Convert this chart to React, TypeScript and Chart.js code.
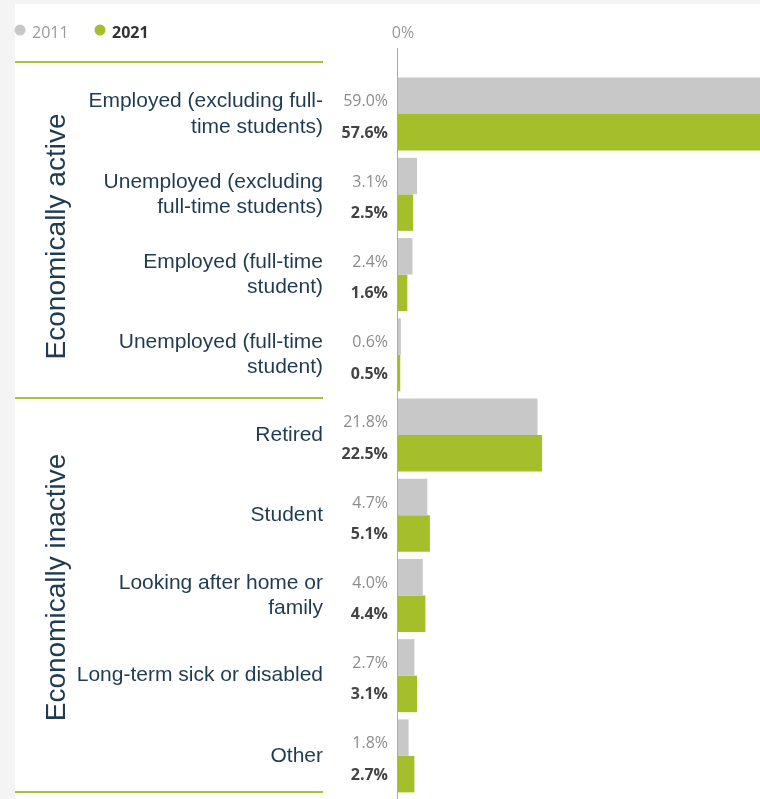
import React, { useEffect, useRef } from "react";
import { Chart, registerables } from "chart.js";

Chart.register(...registerables);

const categories: (string | string[])[] = [
  ["Employed (excluding full-", "time students)"],
  ["Unemployed (excluding", "full-time students)"],
  ["Employed (full-time", "student)"],
  ["Unemployed (full-time", "student)"],
  "Retired",
  "Student",
  ["Looking after home or", "family"],
  "Long-term sick or disabled",
  "Other",
];
const seriesNames = ["2011", "2021"];
const values2011 = [59.0, 3.1, 2.4, 0.6, 21.8, 4.7, 4.0, 2.7, 1.8];
const values2021 = [57.6, 2.5, 1.6, 0.5, 22.5, 5.1, 4.4, 3.1, 2.7];
const groupNames = ["Economically active", "Economically inactive"];
const groupSizes = [4, 5];
const axisTickLabel = "0%";

const GRAY = "#c8c8c8";
const GREEN = "#a4be2c";
const LINE_GREEN = "#a9c23a";
const TEXT_DARK = "#1f3b50";
const NUM_FONT = '"Open Sans", "DejaVu Sans", sans-serif';
const LABEL_FONT = '"Liberation Sans", Arial, sans-serif';

const decorPlugin = {
  id: "decor",
  beforeDraw(chart: any) {
    const { ctx, width, height } = chart;
    ctx.save();
    ctx.fillStyle = "#f4f4f4";
    ctx.fillRect(0, 0, width, height);
    ctx.fillStyle = "#ffffff";
    ctx.fillRect(15, 4, width - 15, height - 4);
    ctx.restore();
  },
  afterDatasetsDraw(chart: any) {
    const { ctx, chartArea } = chart;
    const yScale = chart.scales.y;
    const left = chartArea.left;
    ctx.save();

    // axis line
    ctx.strokeStyle = "#aaaaaa";
    ctx.lineWidth = 1;
    ctx.beginPath();
    ctx.moveTo(left + 0.5, 48);
    ctx.lineTo(left + 0.5, chart.height);
    ctx.stroke();

    // "0%" label
    ctx.font = `16px ${NUM_FONT}`;
    ctx.fillStyle = "#999999";
    ctx.textAlign = "center";
    ctx.textBaseline = "middle";
    ctx.fillText(axisTickLabel, left + 6, 33);

    // legend
    const legendColors = [GRAY, GREEN];
    const legendX = [20, 100];
    seriesNames.forEach((name, i) => {
      ctx.fillStyle = legendColors[i];
      ctx.beginPath();
      ctx.arc(legendX[i], 30, 5.5, 0, Math.PI * 2);
      ctx.fill();
      ctx.font = i === 0 ? `16px ${NUM_FONT}` : `bold 16px ${NUM_FONT}`;
      ctx.fillStyle = i === 0 ? "#999999" : "#333333";
      ctx.textAlign = "left";
      ctx.textBaseline = "middle";
      ctx.fillText(name, legendX[i] + 12, 33);
    });

    // value labels
    const m0 = chart.getDatasetMeta(0);
    const m1 = chart.getDatasetMeta(1);
    ctx.textAlign = "right";
    ctx.textBaseline = "middle";
    categories.forEach((_, i) => {
      const b0 = m0.data[i];
      const b1 = m1.data[i];
      ctx.font = `16px ${NUM_FONT}`;
      ctx.fillStyle = "#8c8c8c";
      ctx.fillText(values2011[i].toFixed(1) + "%", left - 9, b0.y + 6);
      ctx.font = `bold 16px ${NUM_FONT}`;
      ctx.fillStyle = "#444444";
      ctx.fillText(values2021[i].toFixed(1) + "%", left - 9, b1.y + 1);
    });

    // separators & group labels
    const step = yScale.getPixelForValue(1) - yScale.getPixelForValue(0);
    const lines: number[] = [chartArea.top - 12];
    let start = 0;
    ctx.strokeStyle = LINE_GREEN;
    ctx.lineWidth = 2;
    groupSizes.forEach((size, g) => {
      const end = start + size - 1;
      const y0 = yScale.getPixelForValue(start);
      const y1 = yScale.getPixelForValue(end);
      const boundary =
        g === groupSizes.length - 1 ? chartArea.bottom - 4 : y1 + step / 2 + 3;
      lines.push(boundary);
      ctx.save();
      ctx.translate(57, (y0 + y1) / 2 - (g === 0 ? -2 : 8));
      ctx.rotate(-Math.PI / 2);
      ctx.font = `28px ${LABEL_FONT}`;
      ctx.fillStyle = TEXT_DARK;
      ctx.textAlign = "center";
      ctx.textBaseline = "middle";
      ctx.fillText(groupNames[g], 0, 0);
      ctx.restore();
      start += size;
    });
    lines.forEach((ly) => {
      ctx.beginPath();
      ctx.moveTo(15, ly);
      ctx.lineTo(323, ly);
      ctx.stroke();
    });
    ctx.restore();
  },
};

export default function App() {
  const ref = useRef<HTMLCanvasElement | null>(null);
  useEffect(() => {
    if (!ref.current) return;
    const chart = new Chart(ref.current, {
      type: "bar",
      data: {
        labels: categories as any,
        datasets: [
          {
            label: seriesNames[0],
            data: values2011,
            backgroundColor: GRAY,
            borderWidth: 0,
            categoryPercentage: 0.91,
            barPercentage: 1,
          },
          {
            label: seriesNames[1],
            data: values2021,
            backgroundColor: GREEN,
            borderWidth: 0,
            categoryPercentage: 0.91,
            barPercentage: 1,
          },
        ],
      },
      options: {
        indexAxis: "y",
        responsive: true,
        maintainAspectRatio: false,
        animation: false,
        layout: { padding: { top: 74, bottom: 3, left: 0, right: 0 } },
        plugins: {
          legend: { display: false },
          tooltip: { enabled: false },
        },
        scales: {
          x: { display: false, min: 0, max: 56.3 },
          y: {
            position: "left",
            grid: { display: false, drawTicks: false },
            border: { display: false },
            ticks: {
              autoSkip: false,
              padding: 74,
              color: TEXT_DARK,
              font: { family: LABEL_FONT, size: 21 },
            },
            afterFit: (s: any) => {
              s.width = 397;
              s.paddingTop = 0;
              s.paddingBottom = 0;
            },
          },
        },
      },
      plugins: [decorPlugin],
    } as any);
    return () => chart.destroy();
  }, []);
  return (
    <div style={{ position: "fixed", left: 0, top: 0, width: 760, height: 799 }}>
      <canvas ref={ref} />
    </div>
  );
}
